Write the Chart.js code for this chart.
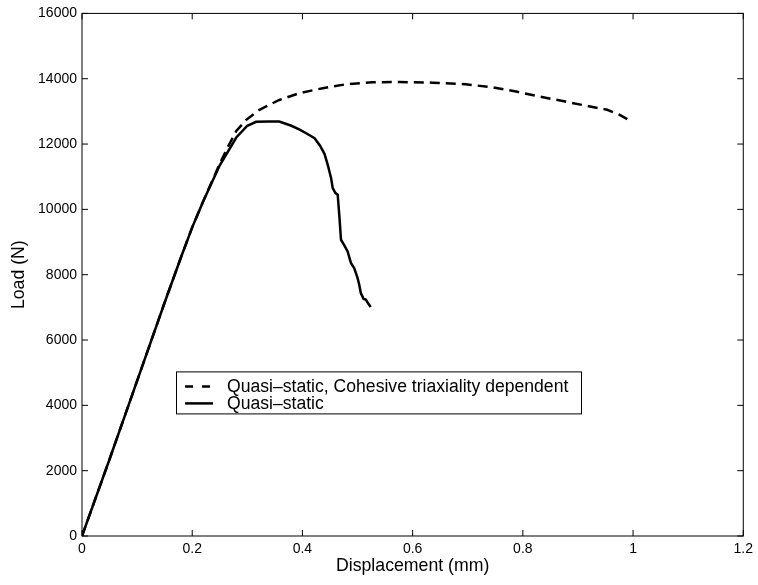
<!DOCTYPE html>
<html>
<head>
<meta charset="utf-8">
<script src="https://cdn.jsdelivr.net/npm/chart.js@4.4.1/dist/chart.umd.min.js"></script>
<style>
  html, body { margin:0; padding:0; background:#fff; }
  #wrap { width:758px; height:585px; }
</style>
</head>
<body>
<div id="wrap"><canvas id="chart" width="758" height="585"></canvas></div>
<script>
// quasi-static (solid)
const dispQS = [0, 0.05, 0.1, 0.15, 0.18, 0.2, 0.22, 0.25, 0.28, 0.3, 0.316, 0.34, 0.358, 0.38, 0.395, 0.41,
  0.422, 0.432, 0.44, 0.446, 0.449, 0.452, 0.455, 0.46, 0.464, 0.467, 0.47, 0.476, 0.482, 0.488, 0.494,
  0.5, 0.503, 0.506, 0.511, 0.515, 0.52, 0.524];
const loadQS = [0, 2350, 4750, 7150, 8550, 9450, 10250, 11350, 12200, 12560, 12680, 12690, 12690, 12560, 12440, 12300,
  12180, 11950, 11700, 11360, 11160, 10960, 10650, 10500, 10450, 9800, 9070, 8900, 8710, 8360, 8200,
  7900, 7700, 7440, 7260, 7240, 7100, 7010];
// quasi-static, cohesive triaxiality dependent (dashed)
const dispCoh = [0, 0.05, 0.1, 0.15, 0.18, 0.2, 0.22, 0.25, 0.265, 0.28, 0.298, 0.322, 0.358, 0.395, 0.437,
  0.479, 0.527, 0.576, 0.636, 0.696, 0.744, 0.79, 0.817, 0.877, 0.922, 0.953, 0.975, 0.995];
const loadCoh = [0, 2350, 4750, 7150, 8550, 9450, 10250, 11400, 11920, 12400, 12740, 13050, 13350, 13560, 13710,
  13830, 13890, 13900, 13880, 13830, 13740, 13600, 13500, 13300, 13150, 13050, 12900, 12710];

const xTicks = [0, 0.2, 0.4, 0.6, 0.8, 1, 1.2];
const yTicks = [0, 2000, 4000, 6000, 8000, 10000, 12000, 14000, 16000];
const labels = ['Quasi\u2013static, Cohesive triaxiality dependent', 'Quasi\u2013static'];

const FONT = "'Liberation Sans', Arial, Helvetica, sans-serif";
const pts = (xs, ys) => xs.map((x, i) => ({x, y: ys[i]}));

// box + inward ticks on all four sides
const boxTicks = {
  id:'boxTicks',
  afterDraw(chart) {
    const {ctx, chartArea:a, scales:{x, y}} = chart;
    ctx.save();
    ctx.strokeStyle = '#000'; ctx.lineWidth = 1;
    ctx.strokeRect(a.left, a.top, a.right - a.left, a.bottom - a.top);
    ctx.beginPath();
    xTicks.forEach(v => {
      const px = x.getPixelForValue(v);
      ctx.moveTo(px, a.bottom); ctx.lineTo(px, a.bottom - 6);
      ctx.moveTo(px, a.top); ctx.lineTo(px, a.top + 6);
    });
    yTicks.forEach(v => {
      const py = y.getPixelForValue(v);
      ctx.moveTo(a.left, py); ctx.lineTo(a.left + 6, py);
      ctx.moveTo(a.right, py); ctx.lineTo(a.right - 6, py);
    });
    ctx.stroke();
    ctx.restore();
  }
};

// MATLAB style legend box inside the axes
const boxLegend = {
  id:'boxLegend',
  afterDraw(chart) {
    const {ctx, chartArea:a} = chart;
    const L = a.left + 94, T = a.top + 358, W = 405, H = 42;
    ctx.save();
    ctx.fillStyle = '#fff';
    ctx.fillRect(L, T, W, H);
    ctx.strokeStyle = '#000'; ctx.lineWidth = 1;
    ctx.strokeRect(L + 0.5, T + 0.5, W, H);
    ctx.font = '17.6px ' + FONT;
    ctx.fillStyle = '#000';
    ctx.textBaseline = 'middle';
    chart.data.datasets.forEach((ds, i) => {
      const yy = T + 15 + i * 17;
      ctx.beginPath();
      ctx.lineWidth = ds.borderWidth;
      ctx.setLineDash(i === 0 ? [8, 9] : []);
      ctx.moveTo(L + 9, yy); ctx.lineTo(L + 37, yy);
      ctx.stroke();
      ctx.setLineDash([]);
      ctx.fillText(ds.label, L + 51, yy + 1);
    });
    ctx.restore();
  }
};

new Chart(document.getElementById('chart'), {
  type:'scatter',
  data:{ datasets:[
    { label:labels[0], data:pts(dispCoh, loadCoh), showLine:true, borderColor:'#000', backgroundColor:'#000',
      borderWidth:2.5, borderDash:[10, 6], pointRadius:0, tension:0 },
    { label:labels[1], data:pts(dispQS, loadQS), showLine:true, borderColor:'#000', backgroundColor:'#000',
      borderWidth:2.5, pointRadius:0, tension:0 }
  ]},
  options:{ responsive:false, animation:false, devicePixelRatio:1,
    layout:{ padding:{ left:0, top:13, right:12, bottom:0 } },
    plugins:{ legend:{display:false}, tooltip:{enabled:false} },
    scales:{
      x:{ type:'linear', min:0, max:1.2,
        afterBuildTicks: s => { s.ticks = xTicks.map(v => ({value:v})); },
        afterFit: s => { s.height = 49; },
        grid:{ display:false, drawTicks:false }, border:{ display:false },
        ticks:{ color:'#000', padding:5, font:{ family:FONT, size:14 }, maxRotation:0,
          callback: v => String(v) },
        title:{ display:true, text:'Displacement (mm)', color:'#000', font:{ family:FONT, size:17.7 },
          padding:{ top:8, bottom:8 } } },
      y:{ type:'linear', min:0, max:16000,
        afterBuildTicks: s => { s.ticks = yTicks.map(v => ({value:v})); },
        afterFit: s => { s.width = 82; },
        grid:{ display:false, drawTicks:false }, border:{ display:false },
        ticks:{ color:'#000', padding:5, font:{ family:FONT, size:14 }, callback: v => String(v) },
        title:{ display:true, text:'Load (N)', color:'#000', font:{ family:FONT, size:17.7 },
          padding:{ top:8, bottom:8 } } }
    }
  },
  plugins:[boxTicks, boxLegend]
});
</script>
</body>
</html>
